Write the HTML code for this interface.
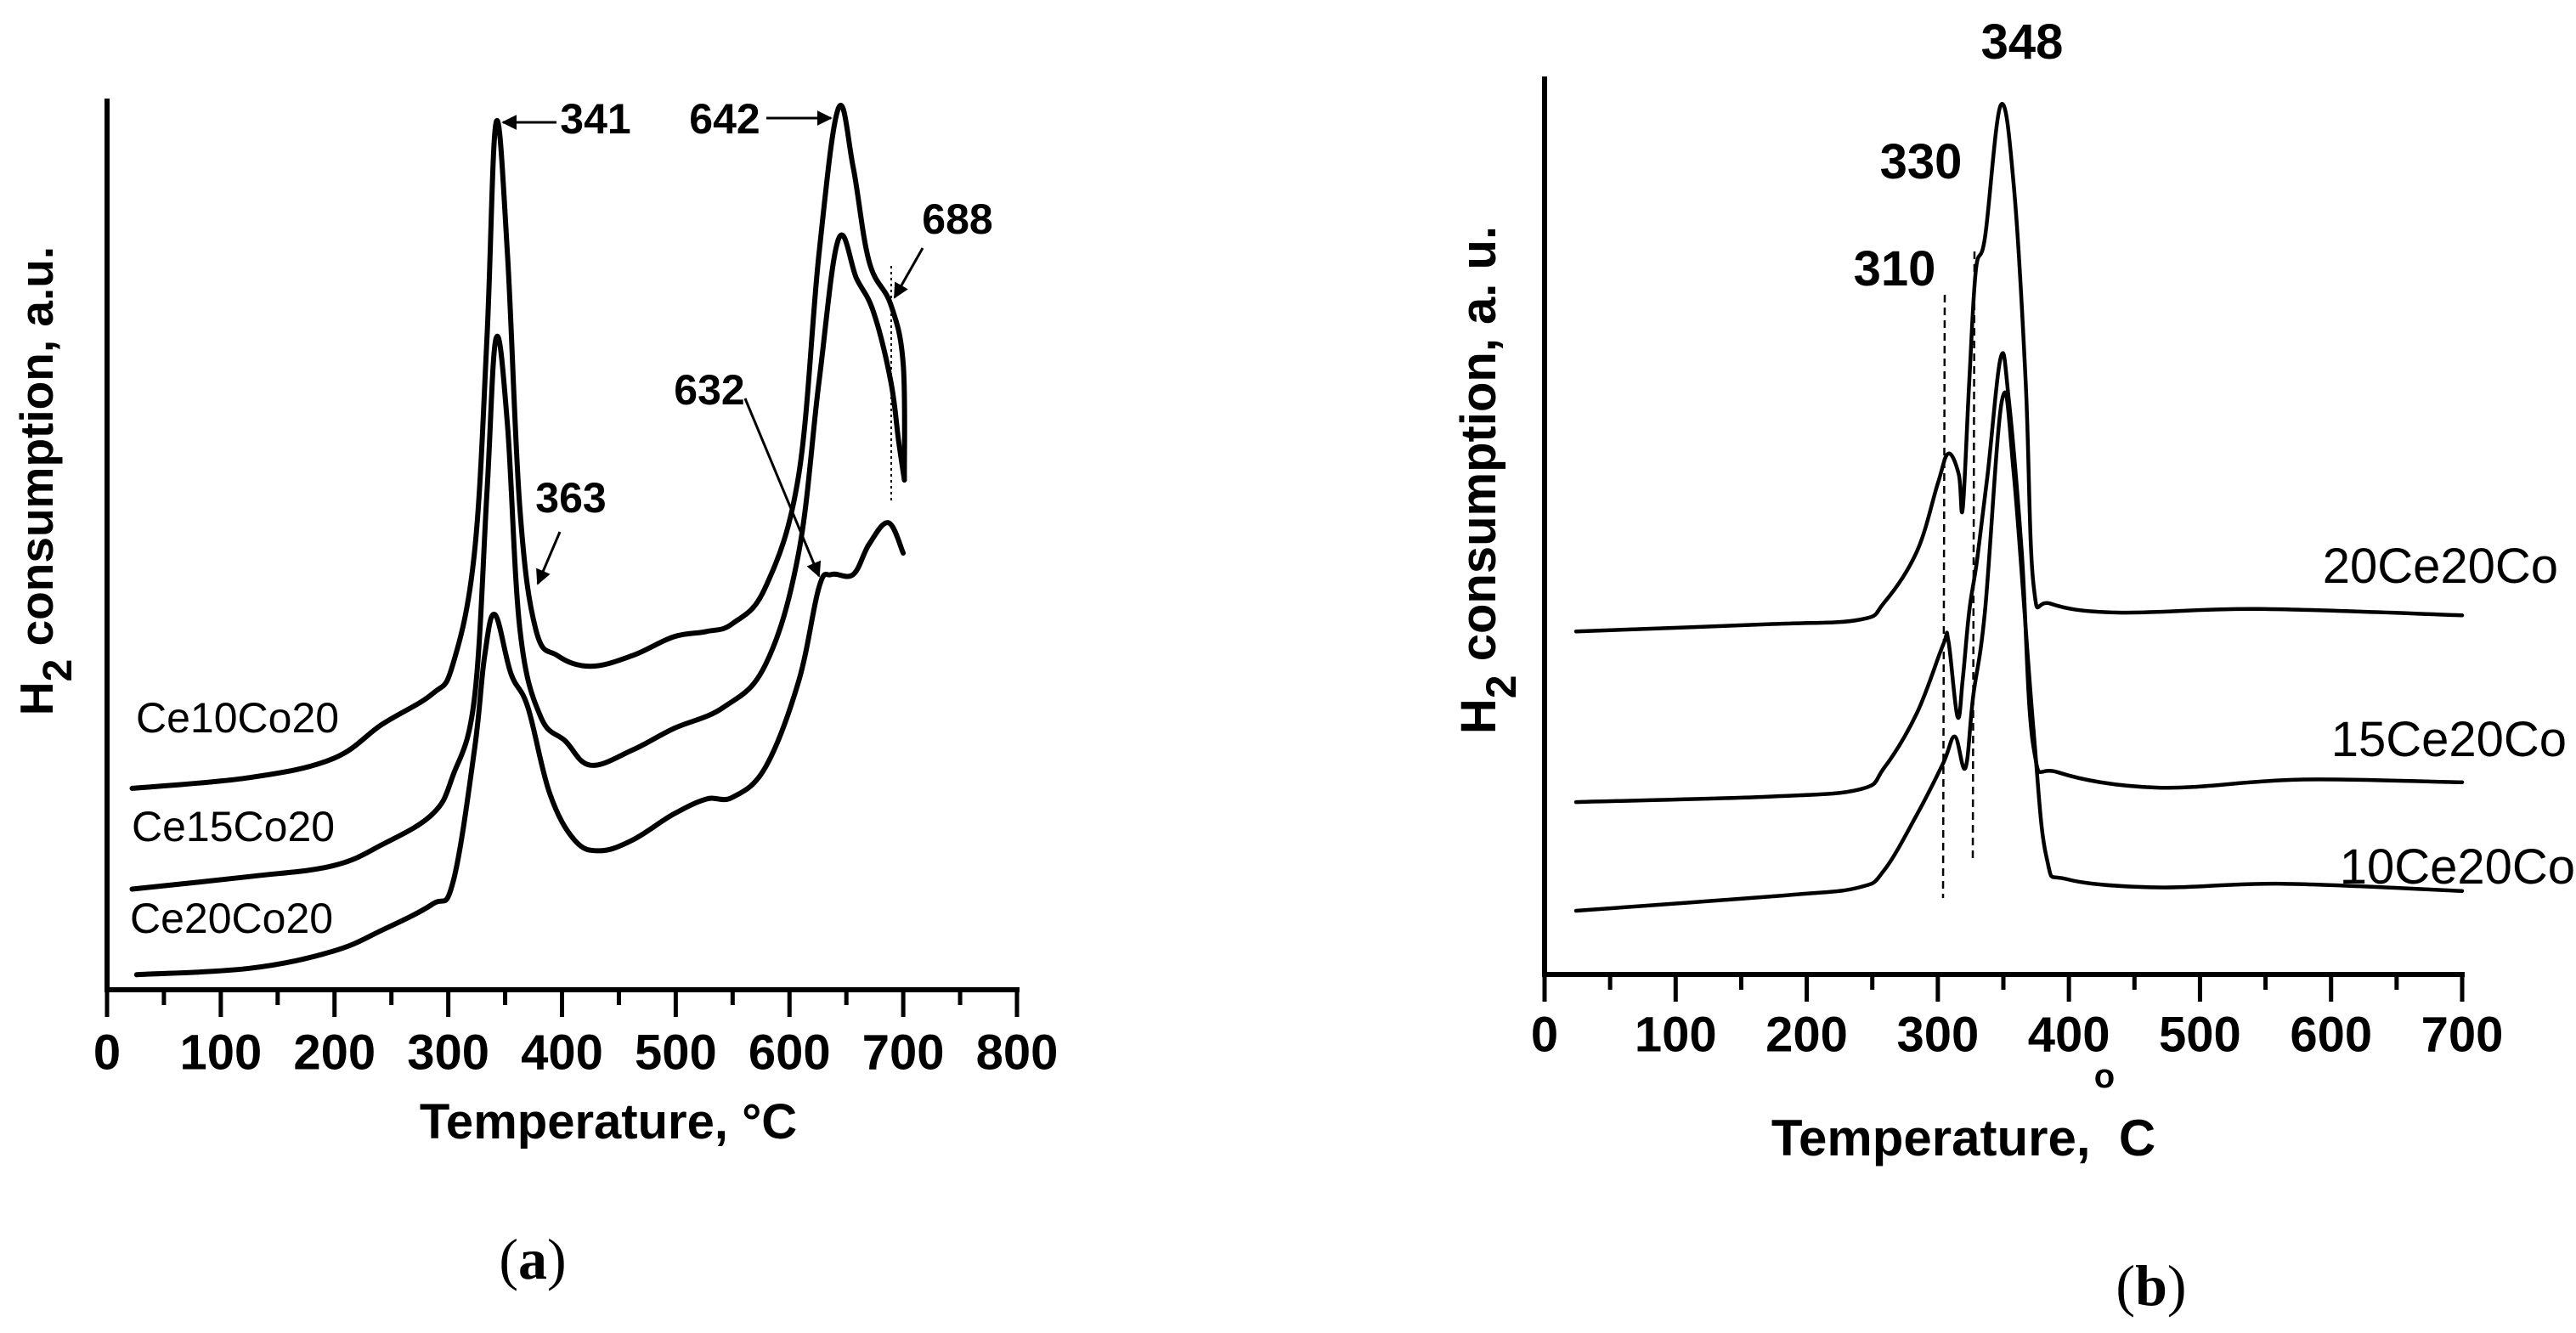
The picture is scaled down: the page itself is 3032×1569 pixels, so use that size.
<!DOCTYPE html>
<html><head><meta charset="utf-8"><style>
html,body{margin:0;padding:0;background:#fff}
svg{display:block}
text{font-family:"Liberation Sans",Arial,sans-serif;fill:#000}
</style></head><body>
<svg id="fig" width="3032" height="1569" viewBox="0 0 3032 1569" xmlns="http://www.w3.org/2000/svg">
<g id="pa"></g>
<g id="pb"></g>
</svg>
<script>
// Panel (a) data
const aTicks = [0,100,200,300,400,500,600,700,800];
const aCe10T = [22,125,198,242,286,304,323,334,342,352,363,377,396,425,462,498,527,550,579,608,626,643,656,670,689,700,701];
const aCe10V = [22.6,23.8,25.9,29.8,33.2,36.5,49,73,97.3,82.7,53.9,40.4,37.5,36.3,37.5,39.6,40.2,41.1,45.2,57.7,82.7,98.9,92.3,81.7,76.9,70.2,57.2];
const aCe15T = [22,125,198,242,286,304,323,334,342,352,363,381,403,425,462,498,542,579,608,626,643,659,674,689,696,701];
const aCe15V = [11.3,12.7,13.9,16.3,19.7,24,32.7,55.7,73.1,63.5,40.4,30.7,27.9,25.2,26.9,29.3,31.7,36.5,49,68.3,84.2,79.8,76,68.3,61.5,57.2];
const aCe20T = [26,125,198,242,286,304,323,332,341,355,370,389,411,433,462,498,527,550,579,608,626,637,656,670,687,700];
const aCe20V = [1.7,2.4,4.3,6.7,9.6,12,26.9,37.5,42.1,35.5,31.7,22.1,16.8,15.6,16.8,19.7,21.4,21.6,25,34.6,45.2,46.6,46.6,50,52.4,49];
// Panel (b) data
const bTicks = [0,100,200,300,400,500,600,700];
const b20T = [24,170,240,259,284,300,308,316,319,324,329,336,348,358,367,373,386,437,545,700];
const b20V = [38.2,39,39.5,41.4,47.1,54.7,58,55.7,51.9,66.1,78.4,82.1,96.8,87.8,66.1,43.4,41.3,40.3,40.7,40];
const b15T = [24,170,240,259,284,304,308,315,319,324,330,338,348,354,364,373,392,468,576,700];
const b15V = [19.2,19.8,20.6,23,29.1,36.7,37.2,28.7,32.9,40.5,46.2,55.7,68.7,64.2,47.1,25.3,22.5,20.8,21.7,21.4];
const b10T = [24,183,240,259,284,304,313,321,327,336,349,358,373,383,399,468,563,700];
const b10V = [7.1,8.8,9.7,11.6,17.8,23.5,26.5,23,31,40.5,64,55.7,27.2,13,10.6,9.7,10.1,9.3];

const NS="http://www.w3.org/2000/svg";
function mk(parent,tag,attrs,txt){const e=document.createElementNS(NS,tag);for(const k in attrs)e.setAttribute(k,attrs[k]);if(txt!==undefined)e.textContent=txt;parent.appendChild(e);return e;}
function smoothPath(pts){let d="M"+pts[0][0].toFixed(1)+","+pts[0][1].toFixed(1);
 for(let i=0;i<pts.length-1;i++){const p0=pts[Math.max(0,i-1)],p1=pts[i],p2=pts[i+1],p3=pts[Math.min(pts.length-1,i+2)];
  const t=0.18;d+=" C"+(p1[0]+(p2[0]-p0[0])*t).toFixed(1)+","+(p1[1]+(p2[1]-p0[1])*t).toFixed(1)+" "+(p2[0]-(p3[0]-p1[0])*t).toFixed(1)+","+(p2[1]-(p3[1]-p1[1])*t).toFixed(1)+" "+p2[0].toFixed(1)+","+p2[1].toFixed(1);}
 return d;}

function panel(g,cfg){
 const X=t=>cfg.x0+(t/cfg.xmax)*(cfg.x1-cfg.x0);
 const Y=v=>cfg.y0-(v/100)*(cfg.y0-cfg.ytop);
 const yax=mk(g,'line',{x1:cfg.x0,y1:cfg.ytop,x2:cfg.x0,y2:cfg.y0+3,stroke:'#000','stroke-width':6});
 
 
 const xax=mk(g,'line',{x1:cfg.x0-3,y1:cfg.y0,x2:cfg.x1+3,y2:cfg.y0,stroke:'#000','stroke-width':6});
 
 
 cfg.ticks.forEach((t,i)=>{
  const tk=mk(g,'line',{x1:X(t),y1:cfg.y0,x2:X(t),y2:cfg.y0+32,stroke:'#000','stroke-width':5});
  
  
  if(i<cfg.ticks.length-1){const m=mk(g,'line',{x1:X(t+50),y1:cfg.y0,x2:X(t+50),y2:cfg.y0+18,stroke:'#000','stroke-width':5});
   
   }
  const lb=mk(g,'text',{x:X(t),y:cfg.tickY,'font-size':58,'font-weight':'bold','text-anchor':'middle','dominant-baseline':'central'},String(t));
  
  
 });
 cfg.series.forEach(s=>{
  const pts=s.T.map((t,i)=>[X(t),Y(s.V[i])]);
  const p=mk(g,'path',{d:smoothPath(pts),fill:'none',stroke:'#000','stroke-width':cfg.sw,'stroke-linejoin':'round','stroke-linecap':'round'});
  
  
 });
}

const pa=document.getElementById('pa');
panel(pa,{x0:126,x1:1197,xmax:800,y0:1165,ytop:116,ticks:aTicks,tickY:1239,sw:6,series:[
 {name:'ce10co20-curve',T:aCe10T,V:aCe10V},{name:'ce15co20-curve',T:aCe15T,V:aCe15V},{name:'ce20co20-curve',T:aCe20T,V:aCe20V}]});
const pb=document.getElementById('pb');
panel(pb,{x0:1818,x1:2898,xmax:700,y0:1147,ytop:90,ticks:bTicks,tickY:1218,sw:4.5,series:[
 {name:'20ce20co-curve',T:b20T,V:b20V},{name:'15ce20co-curve',T:b15T,V:b15V},{name:'10ce20co-curve',T:b10T,V:b10V}]});
</script>
<script>
(function(){
const svg=document.getElementById('fig');
svg.insertAdjacentHTML('beforeend',`
<g>
 <defs><marker id="ah" viewBox="0 0 10 10" refX="9" refY="5" markerWidth="6" markerHeight="6" orient="auto"><path d="M0,0 L10,5 L0,10 z" fill="#000"/></marker></defs>
 <text x="701" y="157" font-size="50" font-weight="bold" text-anchor="middle">341</text>
 <line x1="655" y1="144" x2="592" y2="144" stroke="#000" stroke-width="3" marker-end="url(#ah)"/>
 <text x="853" y="157" font-size="50" font-weight="bold" text-anchor="middle">642</text>
 <line x1="902" y1="139" x2="978" y2="139" stroke="#000" stroke-width="3" marker-end="url(#ah)"/>
 <text x="1127" y="275" font-size="50" font-weight="bold" text-anchor="middle">688</text>
 <line x1="1086" y1="292" x2="1053" y2="350" stroke="#000" stroke-width="3" marker-end="url(#ah)"/>
 <line x1="1049" y1="313" x2="1049" y2="590" stroke="#000" stroke-width="2" stroke-dasharray="3,4"/>
 <text x="835" y="476" font-size="50" font-weight="bold" text-anchor="middle">632</text>
 <line x1="877" y1="469" x2="964" y2="678" stroke="#000" stroke-width="3" marker-end="url(#ah)"/>
 <text x="672" y="603" font-size="50" font-weight="bold" text-anchor="middle">363</text>
 <line x1="659" y1="626" x2="633" y2="687" stroke="#000" stroke-width="3" marker-end="url(#ah)"/>
 <text x="160" y="862" font-size="50">Ce10Co20</text>
 <text x="155" y="990" font-size="50">Ce15Co20</text>
 <text x="153" y="1098" font-size="50">Ce20Co20</text>
 <text x="716" y="1340" font-size="58" font-weight="bold" text-anchor="middle">Temperature, °C</text>
 <text transform="translate(62,566) rotate(-90)" font-size="55" font-weight="bold" text-anchor="middle">H<tspan font-size="48" dy="22">2</tspan><tspan dy="-22"> consumption, a.u.</tspan></text>
 <text x="627" y="1505" font-size="68" text-anchor="middle" style="font-family:'Liberation Serif',serif">(<tspan font-weight="bold">a</tspan>)</text>
</g>
<g>
 <line x1="2289" y1="347" x2="2287" y2="1057" stroke="#000" stroke-width="2.5" stroke-dasharray="9,6"/>
 <line x1="2324" y1="296" x2="2322" y2="1010" stroke="#000" stroke-width="2.5" stroke-dasharray="9,6"/>
 <text x="2380" y="69" font-size="58" font-weight="bold" text-anchor="middle">348</text>
 <text x="2261" y="210" font-size="58" font-weight="bold" text-anchor="middle">330</text>
 <text x="2230" y="336" font-size="58" font-weight="bold" text-anchor="middle">310</text>
 <text x="3011" y="686" font-size="58" text-anchor="end">20Ce20Co</text>
 <text x="3021" y="890" font-size="58" text-anchor="end">15Ce20Co</text>
 <text x="3031" y="1040" font-size="58" text-anchor="end">10Ce20Co</text>
 <text x="2311" y="1360" font-size="60" font-weight="bold" text-anchor="middle" xml:space="preserve">Temperature,  C</text>
 <text x="2477" y="1280" font-size="40" font-weight="bold" text-anchor="middle">o</text>
 <text transform="translate(1760,565) rotate(-90)" font-size="58" font-weight="bold" text-anchor="middle">H<tspan font-size="50" dy="24">2</tspan><tspan dy="-24"> consumption, a. u.</tspan></text>
 <text x="2532" y="1536" font-size="68" text-anchor="middle" style="font-family:'Liberation Serif',serif">(<tspan font-weight="bold">b</tspan>)</text>
</g>`);
})();
</script>
</body></html>
